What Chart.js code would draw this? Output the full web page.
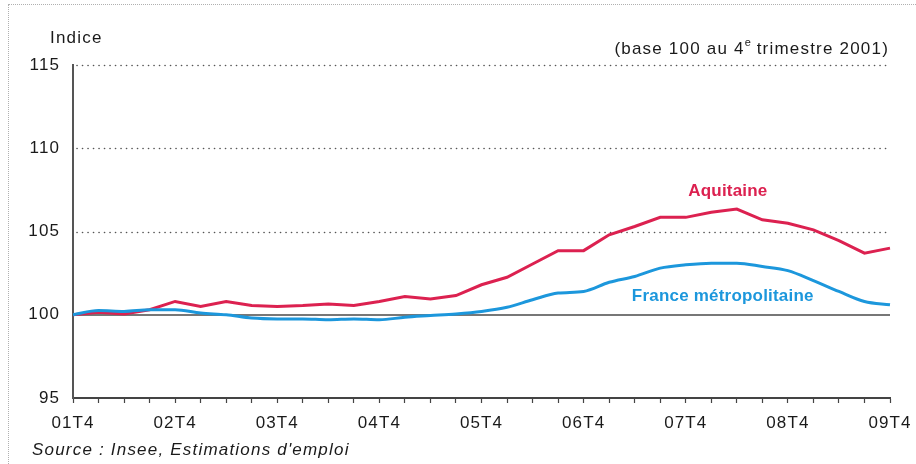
<!DOCTYPE html>
<html>
<head>
<meta charset="utf-8">
<script src="https://cdn.jsdelivr.net/npm/chart.js@4/dist/chart.umd.min.js"></script>
<style>
  body { margin: 0; background: #fff; }
  #wrap { position: relative; width: 916px; height: 464px; font-family: "Liberation Sans", Arial, sans-serif; color: #1a1a1a; }
  #frame { position: absolute; left: 8px; top: 4px; right: 0; bottom: 0; border-left: 1px dotted #b0b0b0; border-top: 1px dotted #b0b0b0; }
  .txt { position: absolute; font-size: 17px; line-height: 20px; white-space: nowrap; letter-spacing: 1.2px; }
  #unit { left: 50px; top: 28px; }
  #base { right: 27px; top: 33px; }
  #base sup { font-size: 11px; position: relative; top: -1px; letter-spacing: 0; }
  #source { left: 32px; top: 440px; font-style: italic; }
</style>
</head>
<body>
<div id="wrap">
  <div id="frame"></div>
  <canvas id="chart" width="916" height="464"></canvas>
  <div class="txt" id="unit">Indice</div>
  <div class="txt" id="base">(base 100 au 4<sup>e</sup> trimestre 2001)</div>
  <div class="txt" id="source">Source : Insee, Estimations d'emploi</div>
</div>
<script>
// trimestres de 01T4 à 09T4
var quarters = ['01T4',
  '02T1', '02T2', '02T3', '02T4',
  '03T1', '03T2', '03T3', '03T4',
  '04T1', '04T2', '04T3', '04T4',
  '05T1', '05T2', '05T3', '05T4',
  '06T1', '06T2', '06T3', '06T4',
  '07T1', '07T2', '07T3', '07T4',
  '08T1', '08T2', '08T3', '08T4',
  '09T1', '09T2', '09T3', '09T4'];

var aquitaine = [100.0,
  100.15, 100.05, 100.3, 100.8,
  100.5, 100.8, 100.55, 100.5,
  100.55, 100.65, 100.55, 100.8,
  101.1, 100.95, 101.15, 101.8,
  102.25, 103.05, 103.85, 103.85,
  104.8, 105.3, 105.85, 105.85,
  106.15, 106.35, 105.7, 105.5,
  105.1, 104.45, 103.7, 104.0];

var france = [100.0,
  100.25, 100.2, 100.3, 100.3,
  100.1, 100.0, 99.8, 99.75,
  99.75, 99.7, 99.75, 99.7,
  99.85, 99.95, 100.05, 100.2,
  100.45, 100.9, 101.3, 101.4,
  101.95, 102.3, 102.8, 103.0,
  103.1, 103.1, 102.9, 102.65,
  102.05, 101.4, 100.8, 100.6];

var yTicks = [95, 100, 105, 110, 115];
var dottedLevels = [105, 110, 115];

var red = '#dc2150';
var blue = '#1c97dc';

// police un peu large dans l'original : on espace les lettres des graduations
var spacingPlugin = {
  id: 'spacingPlugin',
  beforeDraw: function (chart) { chart.ctx.letterSpacing = '1.1px'; }
};

// grille pointillée + ligne de base 100
var gridPlugin = {
  id: 'gridPlugin',
  beforeDatasetsDraw: function (chart) {
    var c = chart.ctx, area = chart.chartArea, y = chart.scales.y;
    c.save();
    c.strokeStyle = '#555';
    c.lineWidth = 1.6;
    c.lineCap = 'round';
    c.setLineDash([0.1, 5.4]);
    dottedLevels.forEach(function (v) {
      var py = Math.round(y.getPixelForValue(v)) + 0.5;
      c.beginPath();
      c.moveTo(area.left + 4, py);
      c.lineTo(area.right, py);
      c.stroke();
    });
    c.setLineDash([]);
    c.lineCap = 'butt';
    c.strokeStyle = '#777';
    c.lineWidth = 2;
    var p100 = Math.round(y.getPixelForValue(100));
    c.beginPath();
    c.moveTo(area.left, p100);
    c.lineTo(area.right, p100);
    c.stroke();
    c.restore();
  }
};

// étiquettes des séries
var seriesLabels = [
  { text: 'Aquitaine', x: 25.65, y: 107.4, color: red },
  { text: 'France métropolitaine', x: 25.45, y: 101.1, color: blue }
];
var labelPlugin = {
  id: 'labelPlugin',
  afterDatasetsDraw: function (chart) {
    var c = chart.ctx;
    c.save();
    c.letterSpacing = '0.2px';
    c.font = 'bold 17px "Liberation Sans", Arial, sans-serif';
    c.textAlign = 'center';
    c.textBaseline = 'middle';
    seriesLabels.forEach(function (l) {
      c.fillStyle = l.color;
      c.fillText(l.text, chart.scales.x.getPixelForValue(l.x), chart.scales.y.getPixelForValue(l.y));
    });
    c.restore();
  }
};

var ctx = document.getElementById('chart').getContext('2d');
var chart = new Chart(ctx, {
  type: 'line',
  data: {
    labels: quarters,
    datasets: [{
      label: 'France métropolitaine',
      data: france,
      borderColor: blue,
      borderWidth: 3,
      pointRadius: 0,
      fill: false,
      cubicInterpolationMode: 'monotone'
    }, {
      label: 'Aquitaine',
      data: aquitaine,
      borderColor: red,
      borderWidth: 3,
      pointRadius: 0,
      fill: false,
      tension: 0
    }]
  },
  options: {
    responsive: false,
    animation: false,
    events: [],
    layout: { padding: { left: 0, right: 26, top: 65, bottom: 0 } },
    plugins: { legend: { display: false }, tooltip: { enabled: false } },
    scales: {
      x: {
        offset: false,
        grid: { display: true, drawOnChartArea: false, drawTicks: true, tickLength: 5, tickColor: '#444', tickWidth: 1.2 },
        border: { display: true, color: '#444', width: 2 },
        ticks: {
          autoSkip: false,
          maxRotation: 0,
          padding: 10,
          color: '#1a1a1a',
          font: { family: '"Liberation Sans", Arial, sans-serif', size: 17 },
          callback: function (v, i) { return quarters[i].slice(2) === 'T4' ? quarters[i] : ''; }
        },
        afterFit: function (s) { s.height = 66; s.paddingRight = 0; }
      },
      y: {
        min: 95,
        max: 115,
        afterBuildTicks: function (s) { s.ticks = yTicks.map(function (v) { return { value: v }; }); },
        grid: { display: false, drawTicks: false },
        border: { display: true, color: '#555', width: 2 },
        ticks: {
          padding: 13,
          color: '#1a1a1a',
          font: { family: '"Liberation Sans", Arial, sans-serif', size: 17 }
        },
        afterFit: function (s) { s.width = 73; }
      }
    }
  },
  plugins: [spacingPlugin, gridPlugin, labelPlugin]
});
</script>
</body>
</html>
